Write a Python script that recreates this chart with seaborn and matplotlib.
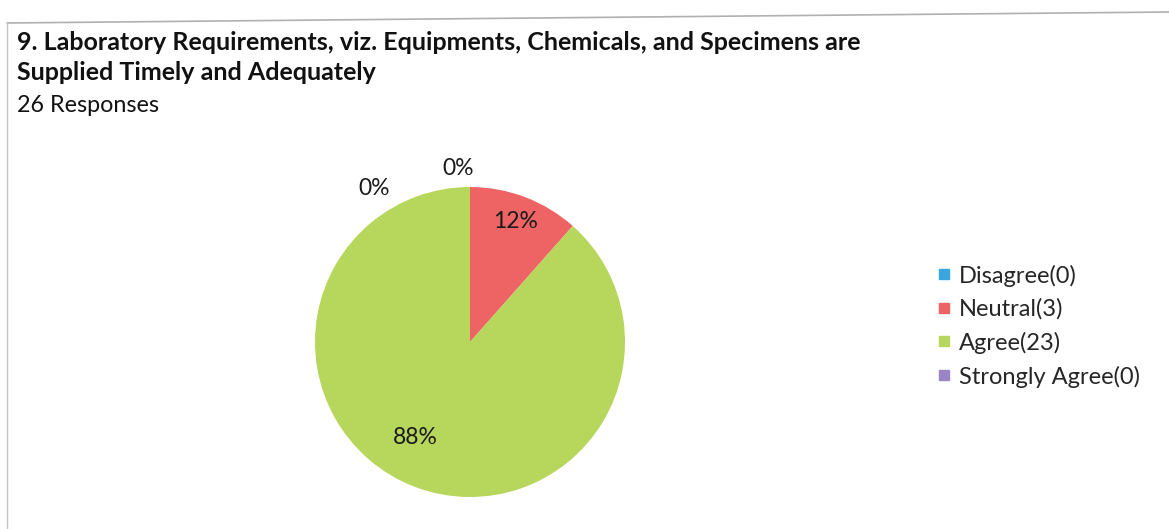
import numpy as np
import matplotlib
matplotlib.use("Agg")
import matplotlib.pyplot as plt
from matplotlib.lines import Line2D
import seaborn as sns

# Survey responses
categories = ["Disagree", "Neutral", "Agree", "Strongly Agree"]
counts = [0, 3, 23, 0]
colors = ["#3aa6e0", "#ee6464", "#b6d65c", "#9a85c6"]
title_lines = ["9. Laboratory Requirements, viz. Equipments, Chemicals, and Specimens are",
               "Supplied Timely and Adequately"]
subtitle = "26 Responses"

sns.set_theme(style="white")
plt.rcParams["font.family"] = ["Lato", "DejaVu Sans"]

W, H = 1169, 529
fig = plt.figure(figsize=(W / 100, H / 100), dpi=100)
fig.patch.set_facecolor("white")

# Outer frame (top and left rules)
fig.add_artist(Line2D([7 / W, 1.0], [1 - 23 / H, 1 - 12 / H], color="#b0b0b0", lw=1.2))
fig.add_artist(Line2D([7 / W, 7 / W], [1 - 23 / H, 0], color="#c4c4c4", lw=1.0))

# Headline text
fig.text(17 / W, 1 - 42 / H, title_lines[0], fontsize=18, fontweight="bold",
         va="center", ha="left", color="#111111")
fig.text(17 / W, 1 - 73 / H, title_lines[1], fontsize=18, fontweight="bold",
         va="center", ha="left", color="#111111")
fig.text(17 / W, 1 - 105 / H, subtitle, fontsize=16.8, va="center", ha="left", color="#111111")

# Pie axes: centre (470, 342) px, radius 155 px
cx, cy, r = 470, 342, 155
ax = fig.add_axes([(cx - r) / W, (H - cy - r) / H, 2 * r / W, 2 * r / H])
total = sum(counts)
wedges, _ = ax.pie(counts, colors=colors, startangle=90, counterclock=False,
                   radius=1.0, wedgeprops=dict(linewidth=0))
ax.set_xlim(-1, 1)
ax.set_ylim(-1, 1)
ax.set_aspect("auto")
ax.axis("off")

# Percentage labels (angle shift in degrees, radial distance)
label_place = [(4, 1.12), (0, 0.83), (-9, 0.71), (32, 1.17)]
angle = 90.0
for i, c in enumerate(counts):
    span = 360.0 * c / total
    pct = f"{round(100 * c / total)}%"
    d_ang, dist = label_place[i]
    a = np.deg2rad(angle - span / 2 + d_ang)
    ax.text(dist * np.cos(a), dist * np.sin(a), pct, ha="center", va="center",
            fontsize=16.5, color="#1a1a1a")
    angle -= span

# Legend
handles = [Line2D([0], [0], marker="s", linestyle="none", markersize=7.5,
                  markerfacecolor=col, markeredgecolor=col)
           for col in colors]
labels = [f"{cat}({n})" for cat, n in zip(categories, counts)]
fig.legend(handles, labels, loc="upper left", bbox_to_anchor=(927 / W, 1 - 255 / H),
           frameon=False, fontsize=17, handlelength=0.6, handletextpad=0.35,
           labelspacing=0.5, borderaxespad=0)

fig.savefig("out.png", dpi=100, facecolor="white")
